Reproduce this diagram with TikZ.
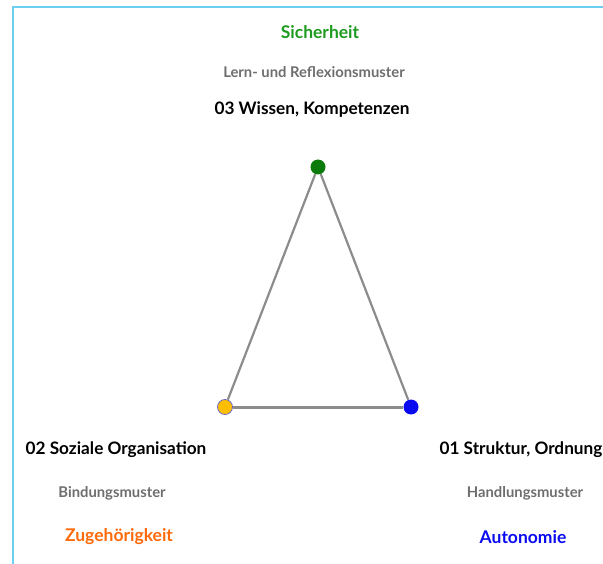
\documentclass[tikz,border=0pt]{standalone}
\usepackage{fontspec}
\setmainfont{Lato}
\usetikzlibrary{positioning}
\definecolor{frameblue}{HTML}{6DCFF0}
\definecolor{edgegray}{HTML}{8C8C8C}
\definecolor{mustergray}{HTML}{6E6E6E}
\definecolor{sichergreen}{HTML}{1E9A1E}
\definecolor{dotgreen}{HTML}{0A7A0A}
\definecolor{dotyellow}{HTML}{FFBF00}
\definecolor{dotrim}{HTML}{6A6AC8}
\definecolor{zugorange}{HTML}{FF6A0A}
\definecolor{autoblue}{HTML}{0A0AF0}
\tikzset{
  dot/.style={circle,inner sep=0pt,minimum width=14pt,minimum height=15pt},
  edge/.style={draw=edgegray,line width=2.2pt},
  title/.style={font=\bfseries\fontsize{17.2}{20}\selectfont,text=black},
  muster/.style={font=\bfseries\fontsize{14.8}{17}\selectfont,text=mustergray},
  need/.style={font=\bfseries\fontsize{17.5}{20}\selectfont}
}
\begin{document}
\begin{tikzpicture}[x=1pt,y=-1pt]
                \useasboundingbox (0,0) rectangle (603,564);
                \draw[frameblue,line width=2pt] (13,564) -- (13,7) -- (603,7);
                \node[dot,fill=dotgreen] (W) at (318,167) {};
                \node[dot,fill=dotyellow,draw=dotrim,line width=0.8pt] (S) at (225,407) {};
                \node[dot,fill=autoblue] (O) at (411,407) {};
                \draw[edge] (W) -- (O);
                \draw[edge] (W) -- (S);
                \draw[edge,line width=3pt] (S) -- (O);
                \node[need,text=sichergreen] (sicher) at (320,32) {Sicherheit};
                \node[muster] (lern) at (314,72) {Lern- und Reflexionsmuster};
                \node[title] (wissen) at (312,110) {03 Wissen, Kompetenzen};
                \node[title] (sozial) at (116,450) {02 Soziale Organisation};
                \node[muster] (bindung) at (112,493) {Bindungsmuster};
                \node[need,text=zugorange] (zugeh) at (119,537) {Zugehörigkeit};
                \node[title] (struktur) at (521,450) {01 Struktur, Ordnung};
                \node[muster] (handlung) at (525,493) {Handlungsmuster};
                \node[need,text=autoblue] (auto) at (523,537) {Autonomie};
            \end{tikzpicture}
\end{document}
